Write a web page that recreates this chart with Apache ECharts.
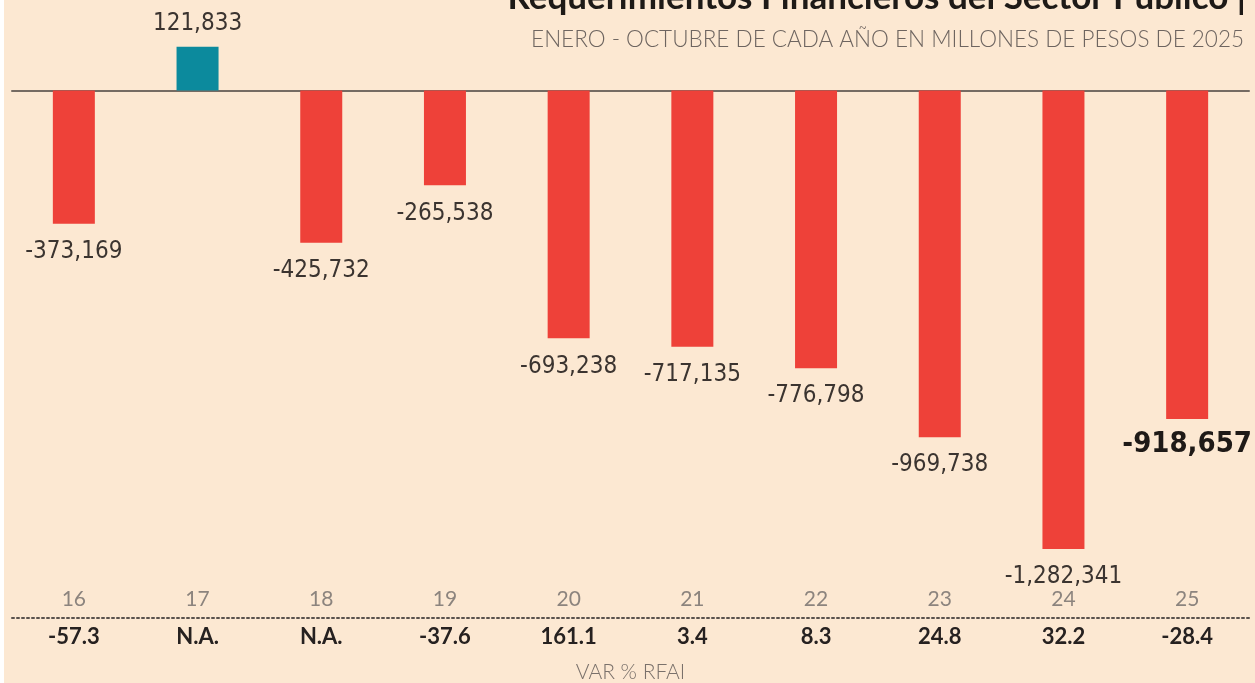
<!DOCTYPE html>
<html>
<head>
<meta charset="utf-8">
<script src="https://cdn.jsdelivr.net/npm/echarts@6/dist/echarts.min.js"></script>
<style>
  html, body { margin: 0; padding: 0; background: #ffffff; }
  #chart { position: absolute; left: 4px; top: 0; width: 1251px; height: 683px; }
</style>
</head>
<body>
<div id="chart"></div>
<script>
// RFSP, enero-octubre, millones de pesos de 2025
const years = ["16", "17", "18", "19", "20", "21", "22", "23", "24", "25"];
const rfsp = [-373169, 121833, -425732, -265538, -693238, -717135, -776798, -969738, -1282341, -918657];
const varReal = ["-57.3", "N.A.", "N.A.", "-37.6", "161.1", "3.4", "8.3", "24.8", "32.2", "-28.4"];

const BG = "#FCE8D2";
const RED = "#EE4139";
const TEAL = "#0C8A9D";
const NARROW = "'Liberation Sans Narrow', 'DejaVu Sans Condensed', sans-serif";
const GEO = "Lato, 'Noto Sans', sans-serif";

const fmt = (v) => v.toLocaleString("en-US");

const barData = rfsp.map((v, i) => {
  const last = i === rfsp.length - 1;
  return {
    value: v,
    itemStyle: { color: v >= 0 ? TEAL : RED },
    label: {
      position: v >= 0 ? "top" : "bottom",
      distance: last ? 11 : v >= 0 ? 11 : 16,
      fontSize: last ? 29 : 24,
      fontWeight: last ? "bold" : "normal",
      color: last ? "#1F1A17" : "#3B3430",
    },
  };
});

const chart = echarts.init(document.getElementById("chart"), null, { renderer: "canvas" });

chart.setOption({
  backgroundColor: BG,
  animation: false,
  title: [
    {
      text: "Requerimientos Financieros del Sector Público |",
      right: 4,
      top: -25,
      textStyle: { fontFamily: GEO, fontSize: 35, fontWeight: "bold", color: "#1E1A17" },
    },
    {
      text: "ENERO - OCTUBRE DE CADA AÑO EN MILLONES DE PESOS DE 2025",
      right: 6,
      top: 23,
      textStyle: { fontFamily: GEO, fontSize: 22.5, fontWeight: 300, color: "#6E6560" },
    },
  ],
  grid: [
    { left: 8, right: 6, top: 1, height: 590 },
    { left: 8, right: 6, top: 617, height: 1 },
  ],
  xAxis: [
    {
      type: "category",
      gridIndex: 0,
      data: years,
      axisLine: { onZero: true, lineStyle: { color: "#756B63", width: 2 } },
      axisTick: { show: false },
      axisLabel: { show: false },
    },
    {
      type: "category",
      gridIndex: 1,
      position: "top",
      data: years,
      axisLine: { lineStyle: { color: "#5A524D", width: 2, type: [2, 3] } },
      axisTick: { show: false },
      axisLabel: { margin: 7, fontFamily: GEO, fontSize: 21, fontWeight: "normal", color: "#8C847E" },
    },
    {
      type: "category",
      gridIndex: 1,
      position: "bottom",
      data: varReal,
      axisLine: { show: false },
      axisTick: { show: false },
      axisLabel: { margin: 9, fontFamily: GEO, fontSize: 22, fontWeight: "bold", color: "#262120" },
      name: "VAR % RFAI",
      nameLocation: "middle",
      nameGap: 44,
      nameTextStyle: { fontFamily: GEO, fontSize: 21, fontWeight: 300, color: "#7A716B" },
    },
  ],
  yAxis: [
    { type: "value", gridIndex: 0, min: -1400000, max: 250000, show: false },
    { type: "value", gridIndex: 1, show: false },
  ],
  series: [
    {
      type: "bar",
      xAxisIndex: 0,
      yAxisIndex: 0,
      barWidth: 42,
      data: barData,
      label: {
        show: true,
        fontFamily: NARROW,
        formatter: (p) => fmt(p.value),
      },
    },
  ],
});
</script>
</body>
</html>
